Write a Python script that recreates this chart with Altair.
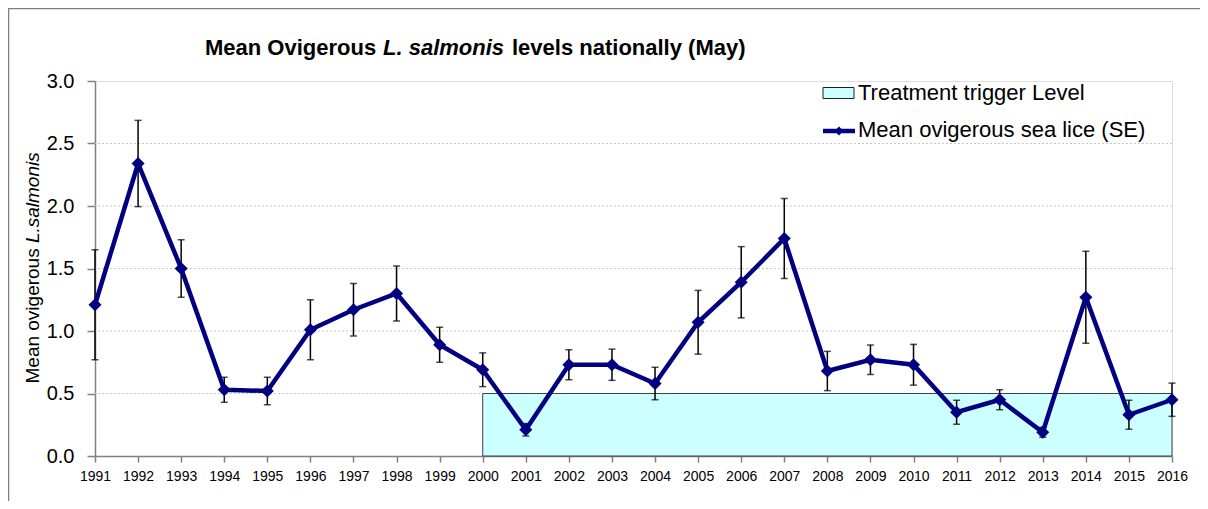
import altair as alt
import pandas as pd

# ---- data ----
years = list(range(1991, 2017))
means = [1.21, 2.34, 1.50, 0.53, 0.52, 1.01, 1.17, 1.30, 0.89, 0.69,
         0.21, 0.73, 0.73, 0.58, 1.07, 1.39, 1.74, 0.68, 0.77, 0.73,
         0.35, 0.45, 0.19, 1.27, 0.33, 0.45]
se = [0.44, 0.345, 0.23, 0.10, 0.11, 0.24, 0.21, 0.22, 0.14, 0.135,
      0.05, 0.12, 0.125, 0.13, 0.255, 0.285, 0.32, 0.157, 0.118, 0.163,
      0.096, 0.08, 0.04, 0.368, 0.116, 0.133]
trigger_start = [2000]
trigger_end = [2016]
trigger_level = [0.5]
y_ticks = [0.0, 0.5, 1.0, 1.5, 2.0, 2.5, 3.0]
grid_values = [0.5, 1.0, 1.5, 2.0, 2.5]

df = pd.DataFrame({"year": years, "mean": means, "se": se})
df["lo"] = df["mean"] - df["se"]
df["hi"] = df["mean"] + df["se"]
trig = pd.DataFrame({"x1": trigger_start, "x2": trigger_end,
                     "y1": [0.0], "y2": trigger_level})
grid = pd.DataFrame({"g": grid_values})

W, H = 1077, 375
FONT = "Liberation Sans"
NAVY = "#000080"
AXC = "#808080"

xscale = alt.Scale(domain=[1991, 2016], nice=False, zero=False)
yscale = alt.Scale(domain=[0, 3], nice=False, zero=True)

xaxis = alt.Axis(values=years, format="d", title=None, labelFontSize=14,
                 labelColor="black", tickSize=6, labelPadding=7,
                 domainColor=AXC, tickColor=AXC, domainWidth=1.5, tickWidth=1.5,
                 grid=False, labelFont=FONT, labelFlush=False, labelOverlap=False,
                 zindex=0)
yaxis = alt.Axis(values=y_ticks, format=".1f", title=None, labelFontSize=20,
                 labelColor="black", tickSize=8, labelPadding=13,
                 domainColor=AXC, tickColor=AXC, domainWidth=1.5, tickWidth=1.5,
                 grid=False, labelFont=FONT, zindex=0)

one = alt.Data(values=[{}])

border = alt.Chart(one).mark_rect(fillOpacity=0, stroke="#7f7f7f", strokeWidth=1.5).encode(
    x=alt.value(-86.5), x2=alt.value(W + 60), y=alt.value(-72.5), y2=alt.value(H + 60))

gridlines = alt.Chart(grid).mark_rule(color="#c8c8c8", strokeWidth=1, strokeDash=[2, 2]).encode(
    y=alt.Y("g:Q", scale=yscale, axis=yaxis))

trigger = alt.Chart(trig).mark_rect(fill="#CCFFFF", stroke="#404040", strokeWidth=1).encode(
    x=alt.X("x1:Q", scale=xscale, axis=xaxis), x2="x2:Q",
    y=alt.Y("y1:Q", scale=yscale, axis=yaxis), y2="y2:Q")

errbars = alt.Chart(df).mark_errorbar(ticks=True, size=7, thickness=1.5, color="black").encode(
    x=alt.X("year:Q", scale=xscale, axis=xaxis),
    y=alt.Y("lo:Q", scale=yscale, axis=yaxis), y2="hi:Q")

line = alt.Chart(df).mark_line(color=NAVY, strokeWidth=4.5).encode(
    x=alt.X("year:Q", scale=xscale, axis=xaxis),
    y=alt.Y("mean:Q", scale=yscale, axis=yaxis))

points = alt.Chart(df).mark_point(shape="diamond", filled=True, size=170, color=NAVY, opacity=1).encode(
    x=alt.X("year:Q", scale=xscale, axis=xaxis),
    y=alt.Y("mean:Q", scale=yscale, axis=yaxis))

# legend (drawn by hand)
leg_box = alt.Chart(one).mark_rect(fill="#CCFFFF", stroke="#202020", strokeWidth=1).encode(
    x=alt.value(728), x2=alt.value(759), y=alt.value(6.5), y2=alt.value(17.5))
leg_line = alt.Chart(one).mark_rule(color=NAVY, strokeWidth=4.5).encode(
    x=alt.value(728), x2=alt.value(760), y=alt.value(50))
leg_pt = alt.Chart(one).mark_point(shape="diamond", filled=True, size=80, color=NAVY, opacity=1).encode(
    x=alt.value(744), y=alt.value(50))
leg_t1 = alt.Chart(one).mark_text(text="Treatment trigger Level", font=FONT, fontSize=22,
                                  align="left", baseline="alphabetic", color="black").encode(
    x=alt.value(763), y=alt.value(19))
leg_t2 = alt.Chart(one).mark_text(text="Mean ovigerous sea lice (SE)", font=FONT, fontSize=22,
                                  align="left", baseline="alphabetic", color="black").encode(
    x=alt.value(763), y=alt.value(56))

# title with italic species name
def tpiece(txt, x, style):
    return alt.Chart(one).mark_text(text=txt, font=FONT, fontSize=22, fontWeight="bold",
                                    fontStyle=style, align="left", baseline="alphabetic",
                                    color="black").encode(x=alt.value(x), y=alt.value(-26))

t1 = tpiece("Mean Ovigerous", 110, "normal")
t2 = tpiece("L. salmonis", 288, "italic")
t3 = tpiece("levels nationally (May)", 417, "normal")

# y-axis title with italic species name
def ypiece(txt, y, style):
    return alt.Chart(one).mark_text(text=txt, font=FONT, fontSize=19, fontStyle=style,
                                    align="left", baseline="alphabetic", angle=270,
                                    color="black").encode(x=alt.value(-56), y=alt.value(y))

y1 = ypiece("Mean ovigerous", 302.5, "normal")
y2 = ypiece("L.salmonis", 162.1, "italic")

chart = alt.layer(
    border, gridlines, trigger, errbars, line, points,
    leg_box, leg_line, leg_pt, leg_t1, leg_t2, t1, t2, t3, y1, y2
).properties(
    width=W, height=H,
    autosize=alt.AutoSizeParams(type="none"),
    padding={"left": 87, "top": 73, "right": 28, "bottom": 45},
).configure_view(stroke=None).configure(font=FONT)

chart.save("out.html", embed_options={"renderer": "svg", "actions": False})
